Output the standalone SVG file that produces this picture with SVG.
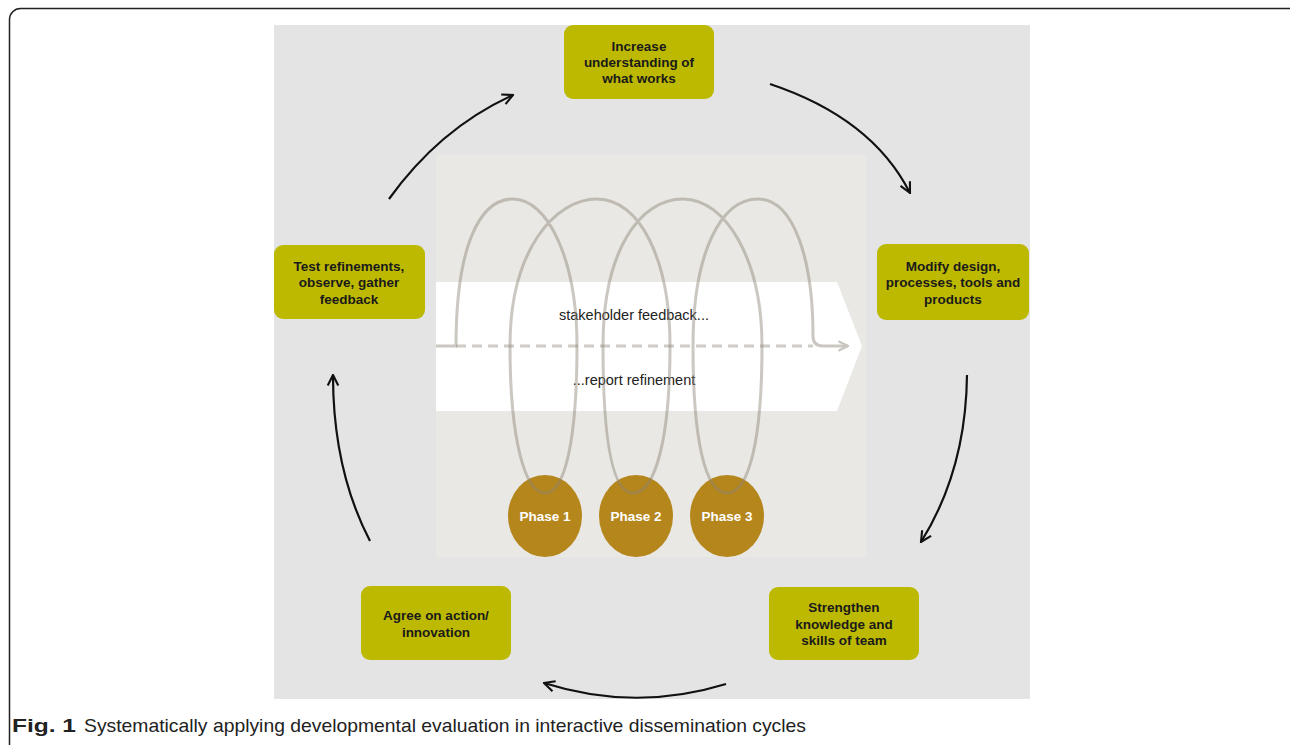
<svg xmlns="http://www.w3.org/2000/svg" width="1290" height="745" viewBox="0 0 1290 745">
<defs>
<style>
.box{fill:#BDB900;}
.bt{font-family:"Liberation Sans",Arial,sans-serif;font-weight:bold;font-size:13.5px;fill:#1a1a1a;text-anchor:middle;}
.ph{fill:#B5861C;}
.pt{font-family:"Liberation Sans",Arial,sans-serif;font-weight:bold;font-size:13.5px;fill:#ffffff;text-anchor:middle;}
.band{font-family:"Liberation Sans",Arial,sans-serif;font-size:14.5px;fill:#222;text-anchor:middle;}
.conn{fill:none;stroke:#111;stroke-width:2.2;marker-end:url(#ah);}
.cap{font-family:"Liberation Sans",Arial,sans-serif;font-size:19px;fill:#222;}
</style>
<marker id="ah" viewBox="0 0 10 10" refX="9" refY="5" markerWidth="6" markerHeight="6" orient="auto" markerUnits="strokeWidth">
<path d="M1,1 L9,5 L1,9" fill="none" stroke="#111" stroke-width="1.6"/>
</marker>
<marker id="gah" viewBox="0 0 10 10" refX="9" refY="5" markerWidth="4" markerHeight="4" orient="auto" markerUnits="strokeWidth">
<path d="M1,1 L9,5 L1,9" fill="none" stroke="#C9C5BF" stroke-width="1.8"/>
</marker>
</defs>
<rect x="9.5" y="8.5" width="1300" height="760" rx="11" fill="#ffffff" stroke="#222" stroke-width="1.5"/>
<rect x="274" y="25" width="756" height="674" fill="#E4E4E4"/>
<rect x="436" y="155" width="430" height="402" fill="#E9E8E4"/>
<g id="band">
<polygon points="436,282 837,282 862,346 837,411 436,411" fill="#ffffff"/>
<text class="band" x="634" y="320">stakeholder feedback...</text>
<text class="band" x="634" y="385">...report refinement</text>
</g>
<g id="phases">
<g id="phase1"><ellipse class="ph" cx="545" cy="516" rx="37" ry="41"/><text class="pt" x="545" y="521">Phase 1</text></g>
<g id="phase2"><ellipse class="ph" cx="636" cy="516" rx="37" ry="41"/><text class="pt" x="636" y="521">Phase 2</text></g>
<g id="phase3"><ellipse class="ph" cx="727" cy="516" rx="37" ry="41"/><text class="pt" x="727" y="521">Phase 3</text></g>
</g>
<g id="spiral">
<line x1="456" y1="346" x2="813" y2="346" stroke="#D0CCC6" stroke-width="3" stroke-dasharray="10,6"/>
<path d="M436,346 H456 C456,250 478,199 513,199 C548,199 577,260 577,346 C577,440 565,493 545,493 C525,493 510,440 510,346 C510,250 555,199 597,199 C640,199 670,260 670,346 C670,440 655,493 633,493 C612,493 603,440 603,346 C603,250 640,199 683,199 C726,199 762,260 762,346 C762,440 749,493 727,493 C705,493 693,440 693,346 C693,250 722,199 758,199 C794,199 813,260 813,336 Q813,346 823,346 L848,346" fill="none" stroke="#8C8276" stroke-opacity="0.45" stroke-width="3" marker-end="url(#gah)"/>
</g>
<g id="connectors">
<path class="conn" d="M389,199 Q440,128 513,95"/>
<path class="conn" d="M770,84 Q872,118 910,193"/>
<path class="conn" d="M967,375 Q966,470 921,542"/>
<path class="conn" d="M726,684 Q635,712 544,683"/>
<path class="conn" d="M370,541 Q333,470 333,375"/>
</g>
<g id="n-increase"><rect class="box" x="564" y="25" width="150" height="74" rx="9"/>
<text class="bt" x="639" y="51">Increase</text><text class="bt" x="639" y="67">understanding of</text><text class="bt" x="639" y="83">what works</text></g>
<g id="n-modify"><rect class="box" x="877" y="244" width="152" height="76" rx="9"/>
<text class="bt" x="953" y="271">Modify design,</text><text class="bt" x="953" y="287">processes, tools and</text><text class="bt" x="953" y="304">products</text></g>
<g id="n-strengthen"><rect class="box" x="769" y="587" width="150" height="73" rx="9"/>
<text class="bt" x="844" y="612">Strengthen</text><text class="bt" x="844" y="629">knowledge and</text><text class="bt" x="844" y="645">skills of team</text></g>
<g id="n-agree"><rect class="box" x="361" y="586" width="150" height="74" rx="9"/>
<text class="bt" x="436" y="620">Agree on action/</text><text class="bt" x="436" y="637">innovation</text></g>
<g id="n-test"><rect class="box" x="274" y="245" width="151" height="74" rx="9"/>
<text class="bt" x="349" y="271">Test refinements,</text><text class="bt" x="349" y="287">observe, gather</text><text class="bt" x="349" y="304">feedback</text></g>
<text class="cap" x="12" y="732"><tspan font-weight="bold" textLength="64" lengthAdjust="spacingAndGlyphs">Fig. 1</tspan><tspan x="84" textLength="722" lengthAdjust="spacingAndGlyphs">Systematically applying developmental evaluation in interactive dissemination cycles</tspan></text>
</svg>
